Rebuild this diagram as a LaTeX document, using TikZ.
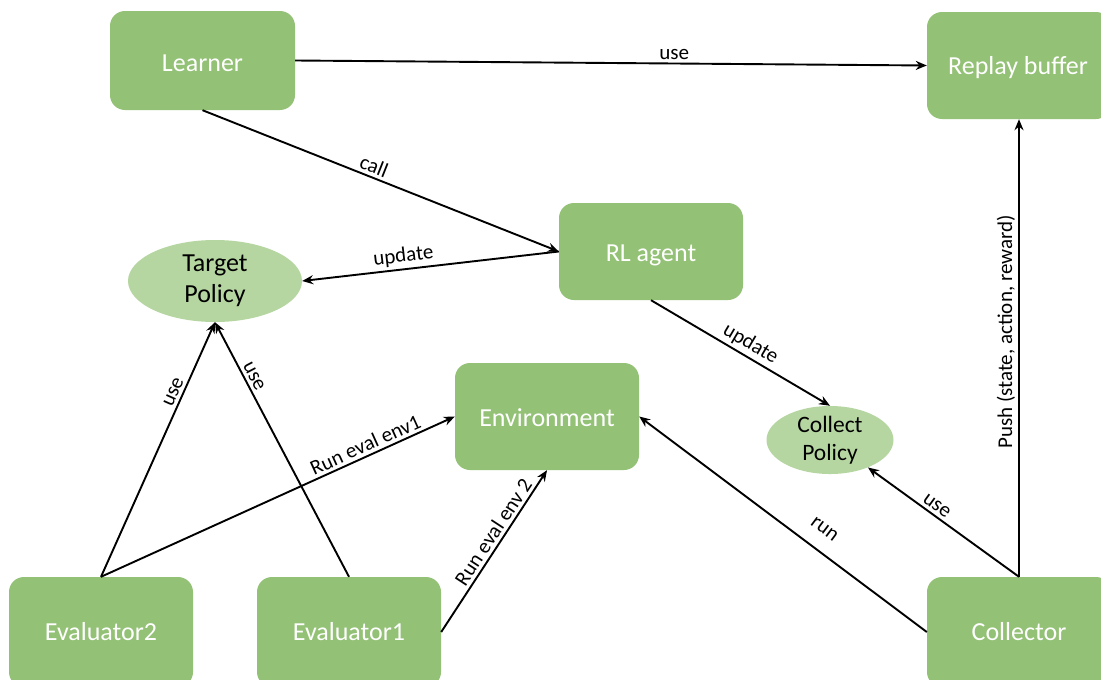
\documentclass[tikz,border=0pt]{standalone}
\usepackage{fontspec}
\setmainfont{Carlito}
\usetikzlibrary{arrows.meta,shapes.geometric}
\definecolor{boxgreen}{RGB}{147,193,117}
\definecolor{polgreen}{RGB}{182,214,161}
\begin{document}
\begin{tikzpicture}[x=1pt,y=-1pt,
  box/.style={fill=boxgreen, rounded corners=15pt, minimum width=184pt,
    text=white, inner sep=0pt, font=\fontsize{26}{30}\selectfont},
  pol/.style={ellipse, fill=polgreen, inner sep=0pt, align=center},
  link/.style={line width=1.9pt, -{Stealth[length=11pt,width=9pt]}},
  lbl/.style={font=\fontsize{21}{25}\selectfont, sloped, inner sep=3pt}]
\clip (0,0) rectangle (1101,680);
\fill[white] (0,0) rectangle (1101,680);

% components
\node[box, minimum width=185pt, minimum height=99pt, text height=23pt] (learner) at (202.5,60.5) {Learner};
\node[box, minimum height=107pt, text height=23pt] (replay) at (1019,65.5) {\hspace*{-2pt}Replay buffer};
\node[box, minimum height=97pt, text height=25pt] (rl) at (651,251.5) {RL agent};
\node[box, minimum height=107pt, text height=21pt] (env) at (547,416.5) {Environment};
\node[box, minimum height=110pt] (ev2) at (101,632) {Evaluator2};
\node[box, minimum height=110pt] (ev1) at (349,632) {Evaluator1};
\node[box, minimum height=110pt] (collector) at (1019,632) {Collector};

% policies
\node[pol, minimum width=174pt, minimum height=82pt, font=\fontsize{26}{31}\selectfont]
  (tp) at (215,281) {Target\\Policy};
\node[pol, minimum width=127pt, minimum height=60pt, font=\fontsize{23.5}{28}\selectfont]
  (cp) at (830,440) {Collect\\Policy};

% interactions
\draw[link] (learner.east) -- node[lbl, above, pos=0.6] {use} (replay.west);
\draw[link] (learner.south) -- node[lbl, above, pos=0.47] {call} (rl.west);
\draw[link] (rl.west) -- node[lbl, above, pos=0.6] {update} (tp.east);
\draw[link] (rl.south) -- node[lbl, above, pos=0.52] {update} (cp.north);
\draw[link] (ev2.north) -- node[lbl, above, pos=0.71] {use} (tp.south);
\draw[link] (ev1.north) -- node[lbl, above, pos=0.77] {use} (tp.south);
\draw[link] (ev2.north) -- node[lbl, above, pos=0.76] {Run eval env1} (env.west);
\draw[link] (ev1.east) -- node[lbl, above, pos=0.58] {Run eval env 2} (env.south);
\draw[link] (collector.west) -- node[lbl, above=12pt, pos=0.4] {run} (env.east);
\draw[link] (collector.north) -- node[lbl, above, pos=0.58] {use} (cp);
\draw[link] (collector.north) -- node[lbl, above, pos=0.535] {Push (state, action, reward)} (replay.south);
\end{tikzpicture}
\end{document}
